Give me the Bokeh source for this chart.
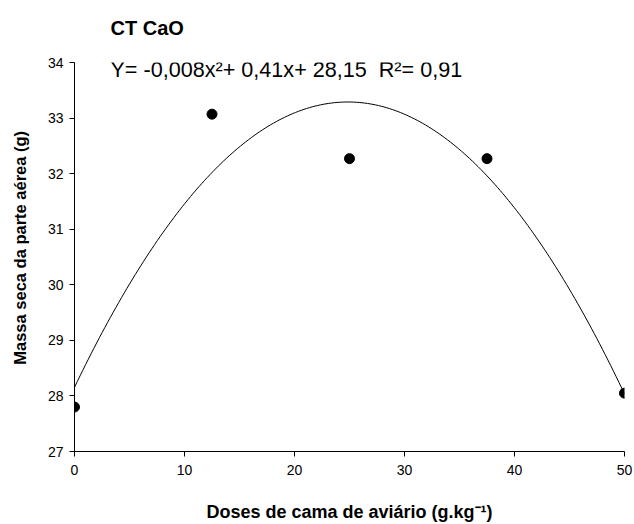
import numpy as np
from bokeh.plotting import figure
from bokeh.models import Label, Range1d, FixedTicker
from bokeh.embed import file_html
from bokeh.resources import INLINE

doses = [0, 12.5, 25, 37.5, 50]
massa = [27.8, 33.07, 32.27, 32.27, 28.05]
x_ticks = [0, 10, 20, 30, 40, 50]
y_ticks = [27, 28, 29, 30, 31, 32, 33, 34]
title_text = "CT CaO"
eq_text = "Y= -0,008x\u00b2+ 0,41x+ 28,15\u00a0\u00a0R\u00b2= 0,91"
x_label = "Doses de cama de avi\u00e1rio (g.kg\u207b\u00b9)"
y_label = "Massa seca da parte a\u00e9rea (g)"

FONT = "Liberation Sans"

p = figure(width=634, height=524, output_backend="svg", toolbar_location=None,
           x_range=Range1d(0, 50), y_range=Range1d(27, 34),
           min_border_left=74, min_border_right=10, min_border_top=62, min_border_bottom=66)
p.outline_line_color = None
p.grid.visible = False
p.background_fill_color = "white"

p.title.text = title_text + "\n\u00a0"
p.title.text_font = FONT
p.title.text_font_style = "bold"
p.title.text_font_size = "20px"
p.title.text_color = "black"
p.title.align = "left"
p.title.vertical_align = "top"
p.title.offset = 36
p.title.standoff = 0

for ax in (p.xaxis[0], p.yaxis[0]):
    ax.axis_line_color = "black"
    ax.major_tick_line_color = "black"
    ax.major_tick_in = 0
    ax.major_tick_out = 5
    ax.minor_tick_line_color = None
    ax.major_label_text_font = FONT
    ax.major_label_text_font_size = "14px"
    ax.major_label_text_color = "black"
    ax.axis_label_text_font = FONT
    ax.axis_label_text_font_style = "bold"
    ax.axis_label_text_color = "black"

p.xaxis.axis_label_text_font_size = "18px"
p.yaxis.axis_label_text_font_size = "16.5px"
p.xaxis.ticker = FixedTicker(ticks=x_ticks)
p.yaxis.ticker = FixedTicker(ticks=y_ticks)
p.xaxis.major_label_standoff = 8
p.yaxis.major_label_standoff = 6
p.xaxis.axis_label = x_label
p.yaxis.axis_label = "\u00a0" * 4 + y_label
p.xaxis.axis_label_standoff = 24
p.yaxis.axis_label_standoff = 16

coef = np.polyfit(doses, massa, 2)
xs = np.linspace(min(doses), max(doses), 200)
p.line(xs, np.polyval(coef, xs), line_color="black", line_width=1)
p.scatter(doses, massa, size=10, color="black")

p.add_layout(Label(x=3.27, y=33.645, text=eq_text, text_font=FONT,
                   text_font_size="21.6px", text_color="black"))

open("out.html", "w").write(file_html(p, INLINE))
